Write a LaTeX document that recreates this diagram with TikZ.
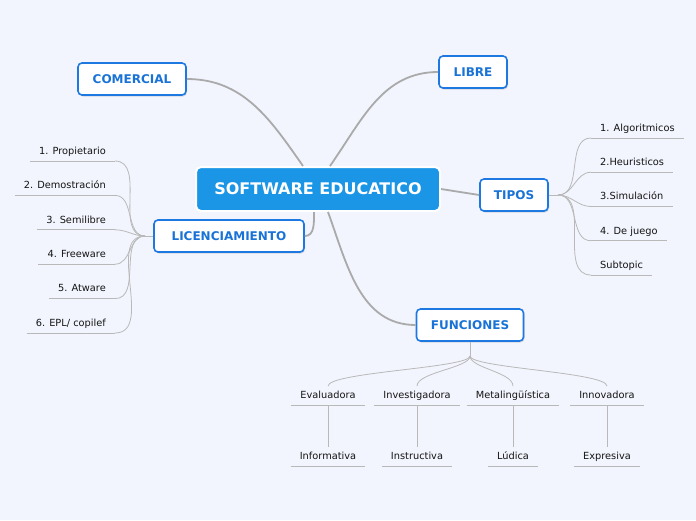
\documentclass[tikz,border=0pt]{standalone}
\usepackage{fontspec}
\setmainfont{DejaVu Sans}
\usepackage{xcolor}
\definecolor{paper}{RGB}{242,245,254}
\definecolor{accent}{RGB}{27,150,230}
\definecolor{boxline}{RGB}{30,120,225}
\definecolor{boxtext}{RGB}{25,115,215}
\definecolor{branch}{RGB}{170,170,170}
\definecolor{twig}{RGB}{185,185,185}
\usetikzlibrary{shadows}

\begin{document}
\begin{tikzpicture}[x=1pt, y=1pt,
  root/.style={fill=accent, draw=white, line width=2pt, rounded corners=5pt, text=white,
    font=\bfseries\fontsize{16}{19}\selectfont, minimum width=244pt, minimum height=44pt},
  topic/.style={fill=white, draw=boxline, line width=1.6pt, rounded corners=4pt, text=boxtext,
    font=\bfseries\fontsize{12}{14}\selectfont, minimum height=32pt,
    drop shadow={opacity=0.25, shadow xshift=1pt, shadow yshift=-1.5pt}},
  leaf/.style={text=black!92, font=\fontsize{9.8}{11}\selectfont, inner xsep=9pt, inner ysep=4pt,
    text height=8pt, text depth=2.5pt},
  branchline/.style={draw=branch, line width=1.8pt},
  twigline/.style={draw=twig, line width=0.8pt}]
  % 背景
  \fill[paper] (0,0) rectangle (696,-520);
  \useasboundingbox (0,0) rectangle (696,-520);
  % 中心主题
  \node[root] (main) at (318,-189) {SOFTWARE EDUCATICO};
  % 主要分支
  \node[topic, minimum width=108pt] (comercial) at (132,-79) {COMERCIAL};
  \node[topic, minimum width=68pt] (libre) at (473,-72) {LIBRE};
  \node[topic, minimum width=68pt] (tipos) at (514,-195) {TIPOS};
  \node[topic, minimum width=150pt] (lic) at (229,-236) {LICENCIAMIENTO};
  \node[topic, minimum width=107pt] (func) at (470,-325) {FUNCIONES};
  \draw[branchline] (comercial.east) to[out=0,in=125] ([xshift=-15pt]main.north);
  \draw[branchline] (libre.west) to[out=180,in=55] ([xshift=12pt]main.north);
  \draw[branchline] (main.east) -- (tipos.west);
  \draw[branchline] (lic.east) to[out=0,in=-90] ([xshift=-4pt]main.south);
  \draw[branchline] ([xshift=10pt]main.south) to[out=-70,in=180] (func.west);
  % LICENCIAMIENTO
  \coordinate (licj) at (145,-236);
  \foreach \t [count=\i] in {1. Propietario, 2. Demostración, 3. Semilibre, 4. Freeware, 5. Atware, 6. EPL/ copilef} {
    \node[leaf, anchor=south east] (lic\i) at (115,{-161-34.4*(\i-1)}) {\t};
    \draw[twigline] (lic\i.south west) -- (lic\i.south east);
    \draw[twigline] (lic\i.south east) to[out=0,in=180] (licj);
  }
  \draw[twigline] (licj) -- (lic.west);
  % TIPOS
  \coordinate (tipj) at (558,-195);
  \foreach \t [count=\i] in {1. Algoritmicos, 2.Heuristicos, 3.Simulación, 4. De juego, Subtopic} {
    \node[leaf, anchor=south west] (tip\i) at (591,{-138-34.25*(\i-1)}) {\t};
    \draw[twigline] (tip\i.south west) -- (tip\i.south east);
    \draw[twigline] (tipj) to[out=0,in=180] (tip\i.south west);
  }
  \draw[twigline] (tipos.east) -- (tipj);
  % FUNCIONES
  \coordinate (funj) at (470,-356);
  \draw[twigline] (func.south) -- (funj);
  \foreach \a/\b/\x [count=\i] in {Evaluadora/Informativa/328, Investigadora/Instructiva/417,
      Metalingüística/Lúdica/513, Innovadora/Expresiva/607} {
    \node[leaf, anchor=south] (fa\i) at (\x,-405) {\a};
    \node[leaf, anchor=south] (fb\i) at (\x,-466) {\b};
    \draw[twigline] (fa\i.south west) -- (fa\i.south east);
    \draw[twigline] (fb\i.south west) -- (fb\i.south east);
    \draw[twigline] (funj) .. controls +(0,-12) and +(0,14) .. (fa\i.north);
    \draw[twigline] (fa\i.south) -- (fb\i.north);
  }
\end{tikzpicture}
\end{document}
